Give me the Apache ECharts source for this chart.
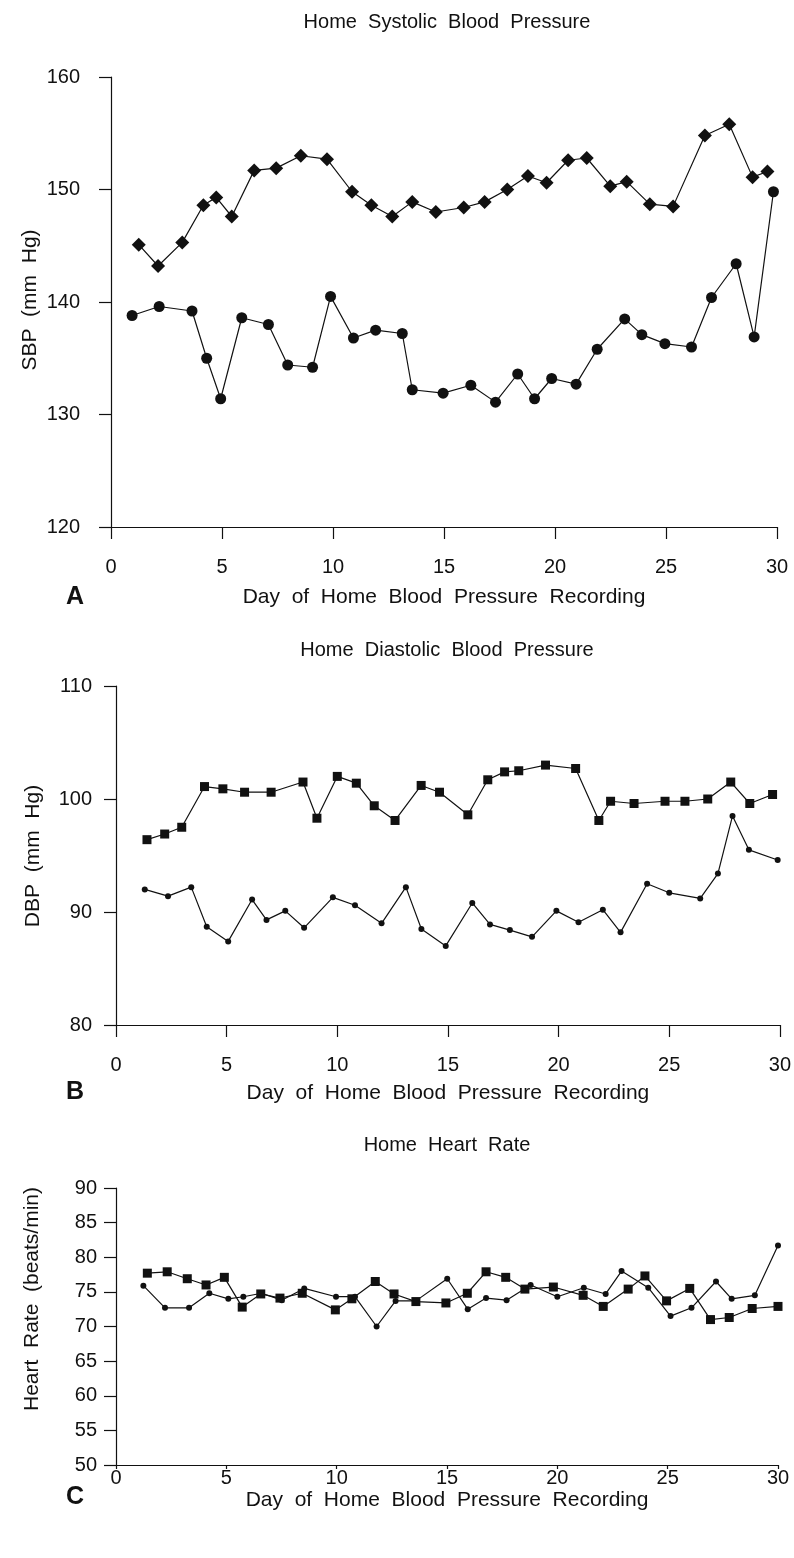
<!DOCTYPE html>
<html>
<head>
<meta charset="utf-8">
<script src="https://cdn.jsdelivr.net/npm/echarts@6/dist/echarts.min.js"></script>
<style>html,body{margin:0;padding:0;background:#fff;}#c{width:794px;height:1558px;}</style>
</head>
<body>
<div id="c"></div>
<script>
// ---- Data ----
const xTicks = [0, 5, 10, 15, 20, 25, 30];

const sbpDiamondDay = [1.25,2.12,3.21,4.16,4.74,5.44,6.45,7.44,8.55,9.73,10.86,11.73,12.67,13.57,14.63,15.89,16.83,17.85,18.78,19.62,20.59,21.43,22.49,23.23,24.27,25.32,26.75,27.85,28.9,29.57];
const sbpDiamond = [145.1,143.2,145.3,148.6,149.3,147.6,151.7,151.9,153.0,152.7,149.8,148.6,147.6,148.9,148.0,148.4,148.9,150.0,151.2,150.6,152.6,152.8,150.3,150.7,148.7,148.5,154.8,155.8,151.1,151.6];
const sbpCircleDay = [0.95,2.17,3.65,4.31,4.94,5.89,7.09,7.96,9.08,9.89,10.92,11.92,13.12,13.57,14.96,16.21,17.32,18.32,19.08,19.85,20.95,21.9,23.14,23.91,24.95,26.15,27.05,28.16,28.97,29.84];
const sbpCircle = [138.8,139.6,139.2,135.0,131.4,138.6,138.0,134.4,134.2,140.5,136.8,137.5,137.2,132.2,131.9,132.6,131.1,133.6,131.4,133.2,132.7,135.8,138.5,137.1,136.3,136.0,140.4,143.4,136.9,149.8];

const dbpSquareDay = [1.4,2.2,2.97,4.0,4.83,5.81,7.01,8.45,9.08,10.0,10.86,11.67,12.61,13.79,14.62,15.9,16.8,17.56,18.2,19.41,20.77,21.82,22.35,23.41,24.81,25.71,26.74,27.78,28.64,29.67];
const dbpSquare = [96.4,96.9,97.5,101.1,100.9,100.6,100.6,101.5,98.3,102.0,101.4,99.4,98.1,101.2,100.6,98.6,101.7,102.4,102.5,103.0,102.7,98.1,99.8,99.6,99.8,99.8,100.0,101.5,99.6,100.4];
const dbpCircleDay = [1.3,2.35,3.4,4.1,5.07,6.15,6.8,7.65,8.5,9.8,10.8,12.0,13.1,13.8,14.9,16.1,16.9,17.8,18.8,19.9,20.9,22.0,22.8,24.0,25.0,26.4,27.2,27.86,28.6,29.9];
const dbpCircle = [92.0,91.4,92.2,88.7,87.4,91.1,89.3,90.1,88.6,91.3,90.6,89.0,92.2,88.5,87.0,90.8,88.9,88.4,87.8,90.1,89.1,90.2,88.2,92.5,91.7,91.2,93.4,98.5,95.5,94.6];

const hrSquareDay = [1.42,2.32,3.23,4.08,4.91,5.72,6.56,7.43,8.44,9.94,10.69,11.75,12.6,13.59,14.95,15.92,16.77,17.66,18.53,19.82,21.17,22.08,23.21,23.97,24.95,26.0,26.94,27.79,28.83,30.0];
const hrSquare = [77.7,77.9,76.9,76.0,77.1,72.8,74.7,74.1,74.8,72.4,74.0,76.5,74.7,73.6,73.4,74.8,77.9,77.1,75.4,75.7,74.5,72.9,75.4,77.3,73.7,75.5,71.0,71.3,72.6,72.9];
const hrCircleDay = [1.24,2.22,3.31,4.23,5.09,5.77,6.6,7.51,8.53,9.97,10.83,11.81,12.67,13.59,15.01,15.94,16.77,17.7,18.79,20.0,21.2,22.19,22.91,24.12,25.13,26.08,27.19,27.9,28.95,30.0];
const hrCircle = [75.9,72.7,72.7,74.8,74.0,74.3,74.8,73.8,75.5,74.3,74.3,70.0,73.7,73.7,76.9,72.5,74.1,73.8,76.0,74.3,75.6,74.7,78.0,75.6,71.5,72.7,76.5,74.0,74.5,81.7];

const titles = ['Home  Systolic  Blood  Pressure', 'Home  Diastolic  Blood  Pressure', 'Home  Heart  Rate'];
const xName = 'Day  of  Home  Blood  Pressure  Recording';
const yNames = ['SBP  (mm  Hg)', 'DBP  (mm  Hg)', 'Heart  Rate  (beats/min)'];
const panelLetters = ['A', 'B', 'C'];

// ---- Chart ----
const FONT = '"Liberation Sans", Arial, sans-serif';
const INK = '#111';
function pairs(xs, ys) { return xs.map((x, i) => [x, ys[i]]); }

const grids = [
  { left: 111, top: 77, width: 666, height: 450 },
  { left: 116, top: 686, width: 664, height: 339 },
  { left: 116, top: 1188, width: 662, height: 277 }
];

function xAxis(idx, labelMargin, nameGap, tickLen) {
  return {
    type: 'value', gridIndex: idx, min: 0, max: 30, interval: 5,
    axisLine: { show: true, onZero: false, lineStyle: { color: INK, width: 1.2 } },
    axisTick: { show: true, length: tickLen, lineStyle: { color: INK, width: 1.2 } },
    axisLabel: { color: INK, fontFamily: FONT, fontSize: 20, margin: labelMargin,
      formatter: v => xTicks.includes(v) ? String(v) : '' },
    splitLine: { show: false },
    name: xName, nameLocation: 'middle', nameGap: nameGap,
    nameTextStyle: { color: INK, fontFamily: FONT, fontSize: 21 }
  };
}
function yAxis(idx, min, max, interval, labelMargin) {
  return {
    type: 'value', gridIndex: idx, min: min, max: max, interval: interval,
    axisLine: { show: true, onZero: false, lineStyle: { color: INK, width: 1.2 } },
    axisTick: { show: true, length: 12, lineStyle: { color: INK, width: 1.2 } },
    axisLabel: { color: INK, fontFamily: FONT, fontSize: 20, margin: labelMargin },
    splitLine: { show: false }
  };
}
function series(idx, data, symbol, size) {
  return {
    type: 'line', xAxisIndex: idx, yAxisIndex: idx, data: data,
    symbol: symbol, symbolSize: size, showSymbol: true,
    lineStyle: { color: INK, width: 1.2 },
    itemStyle: { color: INK, borderWidth: 0 },
    animation: false, silent: true
  };
}

const titleY = [22, 650, 1145];
const letterPos = [[75, 597], [75, 1092], [75, 1497]];
const yNamePos = [[30, 300], [33, 856], [32, 1299]];
const graphics = [];
titles.forEach((t, i) => graphics.push({
  type: 'text', x: 447, y: titleY[i],
  style: { text: t, fill: INK, font: '20px ' + FONT, textAlign: 'center', textVerticalAlign: 'middle' }
}));
panelLetters.forEach((t, i) => graphics.push({
  type: 'text', x: letterPos[i][0], y: letterPos[i][1],
  style: { text: t, fill: INK, font: 'bold 25px ' + FONT, textAlign: 'center', textVerticalAlign: 'middle' }
}));
yNames.forEach((t, i) => graphics.push({
  type: 'text', x: yNamePos[i][0], y: yNamePos[i][1], rotation: Math.PI / 2,
  style: { text: t, fill: INK, font: '21px ' + FONT, textAlign: 'center', textVerticalAlign: 'middle' }
}));

const option = {
  backgroundColor: '#fff',
  animation: false,
  grid: grids,
  xAxis: [xAxis(0, 30, 60, 12), xAxis(1, 30, 58, 12), xAxis(2, 3, 25, 4)],
  yAxis: [yAxis(0, 120, 160, 10, 31), yAxis(1, 80, 110, 10, 24), yAxis(2, 50, 90, 5, 19)],
  series: [
    series(0, pairs(sbpDiamondDay, sbpDiamond), 'diamond', 14),
    series(0, pairs(sbpCircleDay, sbpCircle), 'circle', 11),
    series(1, pairs(dbpSquareDay, dbpSquare), 'rect', 9),
    series(1, pairs(dbpCircleDay, dbpCircle), 'circle', 6),
    series(2, pairs(hrSquareDay, hrSquare), 'rect', 9),
    series(2, pairs(hrCircleDay, hrCircle), 'circle', 6)
  ],
  graphic: graphics
};
const chart = echarts.init(document.getElementById('c'), null, { renderer: 'canvas' });
chart.setOption(option);
</script>
</body>
</html>
